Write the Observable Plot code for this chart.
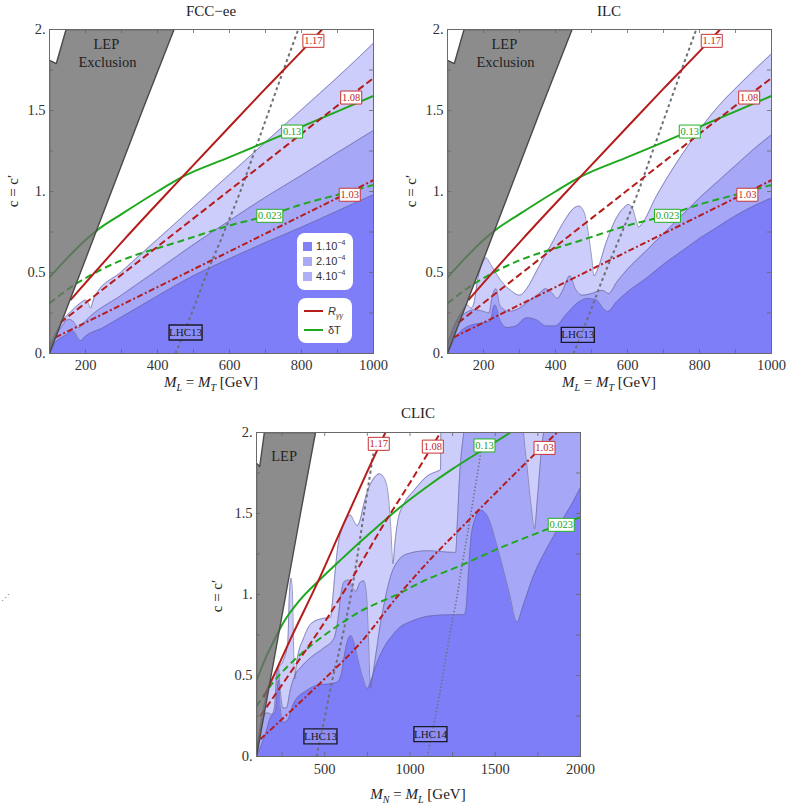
<!DOCTYPE html>
<html><head><meta charset="utf-8">
<script src="https://cdn.jsdelivr.net/npm/d3@7"></script>
<script src="https://cdn.jsdelivr.net/npm/@observablehq/plot@0.6"></script>
<style>
body{margin:0;background:#fff;}
#root{position:relative;width:789px;height:804px;font-family:"Liberation Serif","DejaVu Serif",serif;color:#222;overflow:hidden;}
.abs{position:absolute;white-space:nowrap;}
.ttl{font-size:15px;line-height:16px;transform:translateX(-50%);}
.xl{font-size:15px;line-height:16px;transform:translateX(-50%);}
.xl sub{font-size:10px;font-style:italic;line-height:0;}
.yl{font-size:15px;line-height:16px;transform:translate(-50%,-50%) rotate(-90deg);}
.lg{position:absolute;background:#fff;border-radius:8px;}
.lgt{position:absolute;font-family:"Liberation Sans","DejaVu Sans",sans-serif;font-size:11px;line-height:12px;color:#333;white-space:nowrap;}
.sw{position:absolute;width:9px;height:9px;}
.ln{position:absolute;height:2px;width:19px;}
</style></head>
<body><div id="root"></div>
<script>
// ---------- data ----------
const titles = ["FCC\u2212ee", "ILC", "CLIC"];
const xTickLabelsTop = [200, 400, 600, 800, 1000];
const xTicksTop = [100, 200, 300, 400, 500, 600, 700, 800, 900, 1000];
const xTickLabelsClic = [500, 1000, 1500, 2000];
const xTicksClic = [250, 500, 750, 1000, 1250, 1500, 1750, 2000];
const yTickLabels = [0, 0.5, 1, 1.5, 2];
const yTicks = [0, 0.25, 0.5, 0.75, 1, 1.25, 1.5, 1.75, 2];

// LEP exclusion polygon (same in all panels)
const lepPoly = [[100,0],[186,0.5],[272,1.0],[358,1.5],[446,2.0],[146,2.0],[119,1.79],[100,1.81],[100,0]];

// FCC-ee / ILC contour lines (R_gamma gamma, delta T, LHC13)
const r117 = [[158,0.33],[306,0.70],[469,1.09],[600,1.40],[700,1.635],[800,1.865],[857,2.0]];
const r108 = [[130,0.19],[300,0.486],[500,0.834],[700,1.182],[900,1.53],[1000,1.70]];
const r103 = [[117,0.10],[300,0.30],[500,0.52],[700,0.74],[900,0.96],[1000,1.07]];
const g013 = [[100,0.47],[150,0.59],[200,0.70],[232,0.76],[300,0.86],[400,1.0],[469,1.09],[600,1.212],[700,1.305],[774,1.375],[900,1.495],[1000,1.59]];
const g0023 = [[100,0.31],[160,0.41],[228,0.50],[300,0.575],[400,0.65],[459,0.69],[600,0.79],[712,0.855],[800,0.92],[900,0.98],[1000,1.04]];
const lhc13 = [[450,0],[495,0.25],[538,0.5],[585,0.75],[630,1.0],[670,1.25],[710,1.5],[750,1.75],[791,2.0]];

// FCC-ee sensitivity regions (upper boundaries)
const fccDark = [[100,0],[117,0.07],[135,0.1],[150,0.12],[160,0.14],[170,0.13],[180,0.09],[188,0.08],[197,0.1],[250,0.16],[300,0.225],[400,0.355],[500,0.48],[600,0.585],[700,0.685],[800,0.78],[900,0.88],[1000,0.98]];
const fccMid = [[100,0.03],[120,0.12],[135,0.17],[145,0.2],[155,0.21],[165,0.2],[175,0.17],[183,0.16],[192,0.18],[200,0.2],[300,0.36],[400,0.515],[505,0.68],[600,0.82],[700,0.965],[800,1.1],[900,1.24],[1000,1.377]];
const fccLight = [[100,0.05],[125,0.16],[135,0.2],[160,0.26],[185,0.31],[200,0.33],[208,0.31],[214,0.28],[219,0.31],[225,0.35],[300,0.505],[400,0.705],[500,0.905],[600,1.105],[700,1.305],[800,1.505],[900,1.705],[1000,1.915]];

// ILC sensitivity regions
const ilcDark = [[100,0],[130,0.12],[160,0.17],[200,0.19],[220,0.2],[226,0.27],[232,0.3],[238,0.27],[245,0.21],[265,0.16],[290,0.17],[320,0.22],[345,0.21],[375,0.17],[400,0.17],[430,0.24],[460,0.31],[490,0.34],[515,0.33],[532,0.28],[545,0.26],[570,0.32],[600,0.38],[650,0.46],[700,0.55],[750,0.63],[800,0.71],[850,0.78],[900,0.85],[950,0.91],[1000,0.96]];
const ilcMid = [[100,0.05],[125,0.2],[150,0.25],[175,0.27],[200,0.26],[215,0.25],[225,0.36],[235,0.4],[245,0.3],[270,0.26],[300,0.28],[330,0.33],[355,0.37],[372,0.4],[388,0.38],[405,0.34],[420,0.39],[440,0.48],[455,0.4],[475,0.36],[500,0.37],[530,0.39],[548,0.37],[570,0.44],[600,0.52],[650,0.63],[700,0.74],[750,0.85],[800,0.96],[850,1.06],[900,1.16],[950,1.26],[1000,1.35]];
const ilcLight = [[100,0.06],[140,0.26],[155,0.3],[165,0.28],[172,0.3],[185,0.47],[197,0.56],[207,0.59],[220,0.55],[245,0.46],[275,0.39],[300,0.36],[320,0.4],[350,0.52],[390,0.68],[425,0.82],[450,0.895],[465,0.91],[478,0.88],[490,0.76],[500,0.6],[507,0.48],[517,0.52],[540,0.68],[570,0.84],[590,0.9],[603,0.92],[615,0.89],[624,0.82],[631,0.78],[640,0.8],[680,0.97],[720,1.12],[780,1.32],[850,1.52],[920,1.68],[1000,1.85]];

// CLIC lines
const cR117 = [[143,0.365],[300,0.726],[465,1.09],[600,1.41],[750,1.76],[856,2.0]];
const cR108 = [[123,0.25],[300,0.52],[500,0.83],[700,1.17],[827,1.40],[1000,1.69],[1179,2.0]];
const cR103 = [[123,0.107],[300,0.28],[500,0.48],[700,0.69],[944,1.01],[1100,1.195],[1336,1.45],[1600,1.73],[1789,1.925],[1863,2.0]];
const cG013 = [[100,0.47],[150,0.60],[200,0.71],[260,0.83],[350,0.96],[465,1.085],[600,1.22],[778,1.39],[944,1.54],[1100,1.665],[1250,1.775],[1430,1.895],[1589,2.0]];
const cG0023 = [[100,0.31],[200,0.46],[358,0.63],[500,0.75],[700,0.89],[944,1.01],[1062,1.075],[1300,1.18],[1511,1.28],[1700,1.36],[1887,1.435],[2000,1.477]];
const cLhc13 = [[452,0],[500,0.24],[544,0.47],[580,0.63],[620,0.82],[651,0.98],[680,1.16],[705,1.33],[730,1.5],[760,1.7],[785,1.87]];
const cLhc14 = [[1101,0],[1140,0.2],[1180,0.42],[1215,0.64],[1245,0.82],[1275,0.98],[1305,1.18],[1335,1.36],[1365,1.55],[1395,1.74],[1423,1.93]];

// CLIC sensitivity regions
const clicDark = [[100,0],[150,0.13],[182,0.24],[212,0.28],[222,0.42],[230,0.47],[238,0.32],[255,0.21],[280,0.22],[319,0.33],[400,0.41],[456,0.44],[540,0.45],[575,0.46],[600,0.52],[620,0.65],[640,0.73],[655,0.745],[670,0.71],[695,0.6],[725,0.48],[750,0.42],[775,0.48],[800,0.56],[847,0.67],[900,0.75],[944,0.80],[1000,0.83],[1062,0.855],[1140,0.87],[1250,0.875],[1318,0.875],[1330,0.92],[1342,1.12],[1356,1.33],[1380,1.46],[1413,1.52],[1445,1.5],[1472,1.44],[1500,1.34],[1531,1.22],[1580,1.02],[1628,0.83],[1660,0.92],[1726,1.12],[1800,1.28],[1843,1.36],[1900,1.47],[1950,1.56],[2000,1.66]];
const clicMid = [[100,0.03],[130,0.2],[160,0.27],[190,0.26],[205,0.3],[218,0.5],[228,0.55],[240,0.4],[255,0.3],[275,0.3],[300,0.42],[325,0.5],[360,0.55],[417,0.61],[495,0.67],[555,0.73],[578,0.85],[598,1.02],[615,1.08],[640,1.09],[665,1.04],[682,1.02],[705,1.07],[728,1.085],[745,1.0],[757,0.72],[768,0.42],[790,0.56],[827,0.82],[860,1.0],[886,1.11],[940,1.22],[983,1.25],[1100,1.27],[1257,1.26],[1268,1.26],[1278,1.45],[1292,1.75],[1310,1.95],[1325,2.05],[1655,2.05],[1680,1.85],[1710,1.55],[1730,1.405],[1748,1.6],[1772,1.9],[1795,2.05],[2000,2.05]];
const clicLight = [[100,0.04],[140,0.3],[170,0.42],[200,0.5],[230,0.55],[260,0.6],[283,0.7],[293,1.0],[303,1.1],[311,1.0],[317,0.7],[324,0.48],[334,0.57],[380,0.74],[420,0.82],[480,0.85],[534,0.86],[545,0.95],[555,1.07],[575,1.28],[605,1.42],[635,1.48],[652,1.49],[668,1.46],[690,1.425],[708,1.46],[725,1.54],[755,1.65],[790,1.72],[820,1.745],[848,1.72],[872,1.62],[887,1.42],[900,1.19],[912,1.32],[928,1.45],[965,1.56],[1022,1.64],[1100,1.73],[1170,1.765],[1179,1.77],[1182,2.05],[2000,2.05]];

// labels on contours
const fccLabels = [
  {t:"1.17", x:833, y:1.93, k:"r"}, {t:"1.08", x:938, y:1.58, k:"r"}, {t:"1.03", x:934, y:0.98, k:"r"},
  {t:"0.13", x:774, y:1.37, k:"g"}, {t:"0.023", x:712, y:0.85, k:"g"}, {t:"LHC13", x:478, y:0.13, k:"k"}];
const ilcLabels = [
  {t:"1.17", x:834, y:1.93, k:"r"}, {t:"1.08", x:938, y:1.58, k:"r"}, {t:"1.03", x:933, y:0.98, k:"r"},
  {t:"0.13", x:773, y:1.37, k:"g"}, {t:"0.023", x:711, y:0.85, k:"g"}, {t:"LHC13", x:462, y:0.115, k:"k"}];
const clicLabels = [
  {t:"1.17", x:817, y:1.93, k:"r"}, {t:"1.08", x:1134, y:1.913, k:"r"}, {t:"0.13", x:1437, y:1.92, k:"g"},
  {t:"1.03", x:1789, y:1.905, k:"r"}, {t:"0.023", x:1887, y:1.43, k:"g"},
  {t:"LHC13", x:475, y:0.124, k:"k"}, {t:"LHC14", x:1120, y:0.138, k:"k"}];
const lepTextTop = [{t:"LEP", x:258, y:1.91}, {t:"Exclusion", x:261, y:1.795}];
const lepTextClic = [{t:"LEP", x:262, y:1.85}];
const legendLevels = ["1.10", "2.10", "4.10"];

// ---------- styles ----------
const SERIF = "'Liberation Serif','Times New Roman','DejaVu Serif',serif";
const C_DARK = "#7e7ef9", C_MID = "#a7a7f8", C_LIGHT = "#cdcdfb", C_EDGE = "#6c6ca0";
const RED = "#b51c1c", GREEN = "#1ea81e", GRAYL = "#6f6f78";
const KC = {
  r:{s:"#c83232", t:"#c02828", w:1, f:"white", fo:1},
  g:{s:"#22b022", t:"#1aa01a", w:1, f:"white", fo:1},
  k:{s:"#1a1a2a", t:"#1a1a2a", w:1.4, f:"white", fo:0.12}};
const X = d => d[0], Y = d => d[1];

function boxSymbol(w, h) { return {draw(ctx) { ctx.rect(-w/2, -h/2, w, h); }}; }

function panel(o) {
  const [x0, x1] = o.xDomain;
  const tx = (x1 - x0) * 4 / 324, ty = 2 * 4 / 324;
  const marks = [];
  for (const [data, fill] of [[o.light, C_LIGHT], [o.mid, C_MID], [o.dark, C_DARK]]) {
    marks.push(Plot.areaY(data, {x: X, y: Y, fill, curve: "monotone-x", clip: true}));
  }
  for (const data of [o.light, o.mid, o.dark]) {
    marks.push(Plot.line(data, {x: X, y: Y, stroke: C_EDGE, strokeWidth: 0.7, curve: "monotone-x", clip: true}));
  }
  const ln = {strokeLinecap: "butt", strokeLinejoin: "round", clip: true};
  marks.push(Plot.line(o.lhc13, {x: X, y: Y, stroke: GRAYL, strokeWidth: 2, strokeDasharray: "3,3", curve: "catmull-rom", ...ln}));
  if (o.lhc14) marks.push(Plot.line(o.lhc14, {x: X, y: Y, stroke: GRAYL, strokeWidth: 1.6, strokeDasharray: "1.3,2.2", curve: "catmull-rom", ...ln}));
  marks.push(Plot.line(o.g0023, {x: X, y: Y, stroke: GREEN, strokeWidth: 2, strokeDasharray: "7,4", curve: "monotone-x", ...ln}));
  marks.push(Plot.line(o.g013, {x: X, y: Y, stroke: GREEN, strokeWidth: 2, curve: "monotone-x", ...ln}));
  marks.push(Plot.line(o.r103, {x: X, y: Y, stroke: RED, strokeWidth: 2, strokeDasharray: "6,2.5,2,2.5", curve: "monotone-x", ...ln}));
  marks.push(Plot.line(o.r108, {x: X, y: Y, stroke: RED, strokeWidth: 2, strokeDasharray: "7,3.5", curve: "monotone-x", ...ln}));
  marks.push(Plot.line(o.r117, {x: X, y: Y, stroke: RED, strokeWidth: 2, curve: "monotone-x", ...ln}));
  // LEP exclusion
  marks.push(Plot.line(lepPoly, {x: X, y: Y, fill: "#6c6c6c", fillOpacity: 0.78, stroke: "#4a4a4a", strokeWidth: 1.4, clip: true}));
  marks.push(Plot.text(o.lepText, {x: "x", y: "y", text: "t", fontSize: 14.5, fill: "#222", fontFamily: SERIF}));
  // frame and ticks
  marks.push(Plot.frame({stroke: "#6a6a6a", strokeWidth: 1}));
  marks.push(Plot.ruleX(o.xTicks, {x: d => d, y1: 0, y2: ty, stroke: "#666", strokeWidth: 0.8}));
  marks.push(Plot.ruleX(o.xTicks, {x: d => d, y1: 2 - ty, y2: 2, stroke: "#666", strokeWidth: 0.8}));
  marks.push(Plot.ruleY(yTicks, {y: d => d, x1: x0, x2: x0 + tx, stroke: "#666", strokeWidth: 0.8}));
  marks.push(Plot.ruleY(yTicks, {y: d => d, x1: x1 - tx, x2: x1, stroke: "#666", strokeWidth: 0.8}));
  marks.push(Plot.axisX({ticks: o.xLabels, tickSize: 0, tickPadding: o.xPad, fontSize: 14.5, fontFamily: SERIF, label: null,
    tickFormat: d => String(d)}));
  marks.push(Plot.axisY({ticks: yTickLabels, tickSize: 0, tickPadding: 4, fontSize: 14.5, fontFamily: SERIF, label: null,
    tickFormat: d => (d % 1 === 0 ? d + "." : String(d))}));
  // contour labels
  for (const l of o.labels) {
    const k = KC[l.k];
    const w = l.k === "k" ? 33 : (l.t.length > 4 ? 26 : 21);
    const h = l.k === "k" ? 15 : 13;
    marks.push(Plot.dot([l], {x: "x", y: "y", symbol: boxSymbol(w, h), fill: k.f, fillOpacity: k.fo, stroke: k.s, strokeWidth: k.w}));
    marks.push(Plot.text([l], {x: "x", y: "y", text: "t", fill: k.t, fontSize: l.k === "k" ? 11 : 10.5, fontFamily: SERIF}));
  }
  return Plot.plot({
    width: o.width, height: o.height,
    marginLeft: 49, marginRight: o.width - 49 - 324, marginTop: 29, marginBottom: o.height - 29 - 324,
    x: {domain: o.xDomain, axis: null},
    y: {domain: [0, 2], axis: null},
    style: {fontFamily: SERIF, fontSize: "14.5px", color: "#333", background: "transparent", overflow: "visible"},
    marks
  });
}

const root = document.getElementById("root");
function place(el, left, top) { const d = document.createElement("div"); d.className = "abs"; d.style.left = left + "px"; d.style.top = top + "px"; d.appendChild(el); root.appendChild(d); }
function html(h) { root.insertAdjacentHTML("beforeend", h); }

place(panel({width: 395, height: 395, xDomain: [100, 1000], xTicks: xTicksTop, xLabels: xTickLabelsTop, xPad: 6,
  dark: fccDark, mid: fccMid, light: fccLight, r117, r108, r103, g013, g0023, lhc13,
  lepText: lepTextTop, labels: fccLabels}), 0, 0);
place(panel({width: 391, height: 395, xDomain: [100, 1000], xTicks: xTicksTop, xLabels: xTickLabelsTop, xPad: 6,
  dark: ilcDark, mid: ilcMid, light: ilcLight, r117, r108, r103, g013, g0023, lhc13,
  lepText: lepTextTop, labels: ilcLabels}), 398, 0);
place(panel({width: 395, height: 401, xDomain: [100, 2000], xTicks: xTicksClic, xLabels: xTickLabelsClic, xPad: 7,
  dark: clicDark, mid: clicMid, light: clicLight, r117: cR117, r108: cR108, r103: cR103, g013: cG013, g0023: cG0023,
  lhc13: cLhc13, lhc14: cLhc14, lepText: lepTextClic, labels: clicLabels}), 207, 403);

// titles and axis titles
html(`<div class="abs ttl" style="left:211px;top:3px">${titles[0]}</div>`);
html(`<div class="abs ttl" style="left:609px;top:3px">${titles[1]}</div>`);
html(`<div class="abs ttl" style="left:418px;top:405px">${titles[2]}</div>`);
const xt1 = `<i>M</i><sub>L</sub> = <i>M</i><sub>T</sub> [GeV]`;
const xt2 = `<i>M</i><sub>N</sub> = <i>M</i><sub>L</sub> [GeV]`;
html(`<div class="abs xl" style="left:211px;top:374px">${xt1}</div>`);
html(`<div class="abs xl" style="left:609px;top:374px">${xt1}</div>`);
html(`<div class="abs xl" style="left:418px;top:786px">${xt2}</div>`);
html(`<div class="abs yl" style="left:13px;top:191px">c = c\u2032</div>`);
html(`<div class="abs yl" style="left:411px;top:191px">c = c\u2032</div>`);
html(`<div class="abs yl" style="left:217px;top:596px">c = c\u2032</div>`);
html(`<div class="abs" style="left:1px;top:593px;font-size:9px;color:#777">\u22F0</div>`);

// legend (FCC-ee panel)
html(`<div class="lg" style="left:297px;top:233px;width:56px;height:57px"></div>`);
html(`<div class="lg" style="left:298px;top:298px;width:54px;height:45px"></div>`);
const swc = ["#8080f7", "#a9a9f4", "#afaff6"];
legendLevels.forEach((t, i) => {
  html(`<div class="sw" style="left:303px;top:${242 + i * 15}px;background:${swc[i]}"></div>`);
  html(`<div class="lgt" style="left:316px;top:${240 + i * 15}px">${t}<sup style="font-size:7px;line-height:0">\u22124</sup></div>`);
});
html(`<div class="ln" style="left:304px;top:310px;background:${RED}"></div>`);
html(`<div class="lgt" style="left:328px;top:305px;font-style:italic">R<sub style="font-size:7px;line-height:0">\u03B3\u03B3</sub></div>`);
html(`<div class="ln" style="left:304px;top:329px;background:${GREEN}"></div>`);
html(`<div class="lgt" style="left:328px;top:324px">\u03B4T</div>`);
</script></body></html>
